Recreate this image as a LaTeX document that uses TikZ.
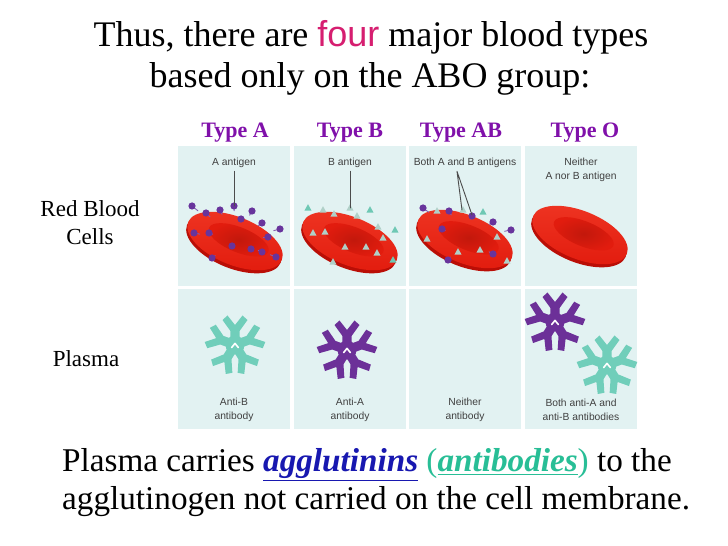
\documentclass[tikz,border=0pt]{standalone}
\usepackage{fontspec}
\setmainfont{Liberation Serif}
\newfontfamily\sansfont{Liberation Sans}
\usetikzlibrary{positioning}
\definecolor{panelbg}{RGB}{226,242,242}
\definecolor{typepurple}{RGB}{128,16,170}
\definecolor{fourpink}{RGB}{214,30,112}
\definecolor{agglblue}{RGB}{24,24,176}
\definecolor{antiteal}{RGB}{40,190,150}
\definecolor{dotpurple}{RGB}{104,52,156}
\definecolor{abteal}{RGB}{112,206,186}
\definecolor{abpurple}{RGB}{108,48,152}
\definecolor{trigrey}{RGB}{176,208,200}
\definecolor{triteal}{RGB}{110,200,180}
\definecolor{cellred}{RGB}{226,28,14}
\definecolor{celltop}{RGB}{238,52,34}
\definecolor{celldark}{RGB}{186,14,6}
% red blood cell, #1 = centre
\newcommand{\bloodcell}[1]{%
  \begin{scope}[shift={(#1)},rotate=-22]
    \fill[celldark] (0,-3) ellipse (50.5 and 24.5);
    \shade[top color=celltop,bottom color=cellred] (0,0) ellipse (50.5 and 24);
    \shade[inner color=cellred!86!black,outer color=cellred] (3,2.5) ellipse (32 and 12.5);
  \end{scope}}
% antibody (pentamer), #1 = centre, #2 = colour
\newcommand{\antibody}[2]{%
  \begin{scope}[shift={(#1)}]
    \foreach \a in {90,20,-58,-122,160}{
      \fill[#2,rotate=\a] (3,-4.6) -- (14,-4.6) -- (25,-12.5) -- (29.5,-7.5) -- (20,0)
        -- (29.5,7.5) -- (25,12.5) -- (14,4.6) -- (3,4.6) -- cycle;}
    \fill[#2] (0,0) circle (9.5);
    \draw[white,line width=1.6pt] (-3.4,-2.6)--(0,1.6)--(3.4,-2.6);
  \end{scope}}
\begin{document}
\begin{tikzpicture}[x=1pt,y=1pt,line join=round,line cap=round]
  \tikzset{typelabel/.style={font=\fontsize{22}{24}\selectfont\bfseries,text=typepurple,anchor=base},
    sidelabel/.style={font=\fontsize{23}{28}\selectfont,anchor=base},
    small/.style={font=\sansfont\fontsize{10.3}{14}\selectfont,text=black!75,align=center},
    leader/.style={draw=black!70,line width=0.9pt},
    bigtext/.style={font=\fontsize{36}{41}\selectfont,anchor=base},
    notetext/.style={font=\fontsize{33.2}{38}\selectfont,anchor=base west,inner sep=0pt},
    agdot/.style={fill=dotpurple},
    agstem/.style={draw=dotpurple!80,line width=0.9pt},
    agtri/.style={fill=trigrey},
    agtrout/.style={fill=triteal}}
  \def \cw{112}
  \def \gap{115.7}
  \useasboundingbox[fill=white] (0,0) rectangle (728,546);
  % panels
  \foreach \i in {0,...,3}{
    \fill[panelbg] ({178+\i*\gap},260) rectangle ++(\cw,140);
    \fill[panelbg] ({178+\i*\gap},117) rectangle ++(\cw,140);}
  % title
  \node[bigtext] (title1) at (371,499) {Thus, there are {\sansfont\color{fourpink}four} major blood types};
  \node[bigtext] (title2) at (370,458) {based only on the ABO group:};
  \node[typelabel] (tA) at (235,408) {Type A};
  \node[typelabel] (tB) at (350,408) {Type B};
  \node[typelabel] (tAB) at (461,408) {Type AB};
  \node[typelabel] (tO) at (585,408) {Type O};
  \node[sidelabel] (rbc1) at (90,329) {Red Blood};
  \node[sidelabel] (rbc2) at (90,301) {Cells};
  \node[sidelabel] (plasma) at (86,179) {Plasma};
  % red blood cells
  \bloodcell{235,305}
  \bloodcell{350,305}
  \bloodcell{465,307}
  \bloodcell{580,311}
  % type A antigens
  \begin{scope}[shift={(235,305)}]
    \foreach \x/\y in {-43/35,-29/28,-15/31,-1/35,17/30,27/18,45/12,6/22,-41/8,-26/8,-3/-5,16/-8,27/-11,41/-16,-23/-17,33/4}{
      \draw[agstem] (\x,\y)--({0.86*\x},{0.86*\y});
      \fill[agdot] (\x,\y) circle (3.6);}
  \end{scope}
  % type B antigens
  \begin{scope}[shift={(350,305)}]
    \foreach \x/\y in {-27/31,-16/27,0/33,7/25,28/14,-37/8,-25/9,33/3,-5/-6,16/-6,27/-12,-17/-21}{
      \fill[agtri] (\x,{\y+3.8}) -- ++(-3.6,-6.5) -- ++(7.2,0) -- cycle;}
    \foreach \x/\y in {-42/33,20/31,45/11,43/-19}{
      \fill[agtrout] (\x,{\y+3.8}) -- ++(-3.6,-6.5) -- ++(7.2,0) -- cycle;}
  \end{scope}
  % type AB antigens
  \begin{scope}[shift={(465,307)}]
    \foreach \x/\y in {-28/28,-2/29,32/2,-38/0,-7/-13,15/-11,42/-22}{
      \fill[agtri] (\x,{\y+3.8}) -- ++(-3.6,-6.5) -- ++(7.2,0) -- cycle;}
    \fill[agtrout] (18,{27+3.8}) -- ++(-3.6,-6.5) -- ++(7.2,0) -- cycle;
    \foreach \x/\y in {-42/31,-16/28,7/23,28/17,46/9,-23/10,-17/-21,28/-15}{
      \draw[agstem] (\x,\y)--({0.86*\x},{0.86*\y});
      \fill[agdot] (\x,\y) circle (3.6);}
  \end{scope}
  % antigen labels
  \node[small] (agA) at (234,383) {A antigen};
  \node[small] (agB) at (350,383) {B antigen};
  \node[small] (agAB) at (465,383) {Both A and B antigens};
  \node[small] (agO) at (581,376) {Neither\\A nor B antigen};
  \coordinate (tipA) at (234,340);
  \coordinate (tipB) at (350,338);
  \coordinate (tipAB1) at (462,336);
  \coordinate (tipAB2) at (472,331);
  \draw[leader] (agA.south) -- (tipA);
  \draw[leader] (agB.south) -- (tipB);
  \draw[leader] ([xshift=-8pt]agAB.south) -- (tipAB1) ([xshift=-8pt]agAB.south) -- (tipAB2);
  % antibodies
  \antibody{235,201}{abteal}
  \antibody{347,196}{abpurple}
  \antibody{555,224}{abpurple}
  \antibody{607,181}{abteal}
  \node[small] (abA) at (234,136) {Anti-B\\antibody};
  \node[small] (abB) at (350,136) {Anti-A\\antibody};
  \node[small] (abAB) at (465,136) {Neither\\antibody};
  \node[small] (abO) at (581,136) {Both anti-A and\\anti-B antibodies};
  % note
  \node[notetext] (note1) at (62,74) {Plasma carries {\color{agglblue}\underline{\textbf{\textit{agglutinins}}}} {\color{antiteal}(\underline{\textbf{\textit{antibodies}}})} to the};
  \node[notetext] (note2) at (62,36) {agglutinogen not carried on the cell membrane.};
\end{tikzpicture}
\end{document}
